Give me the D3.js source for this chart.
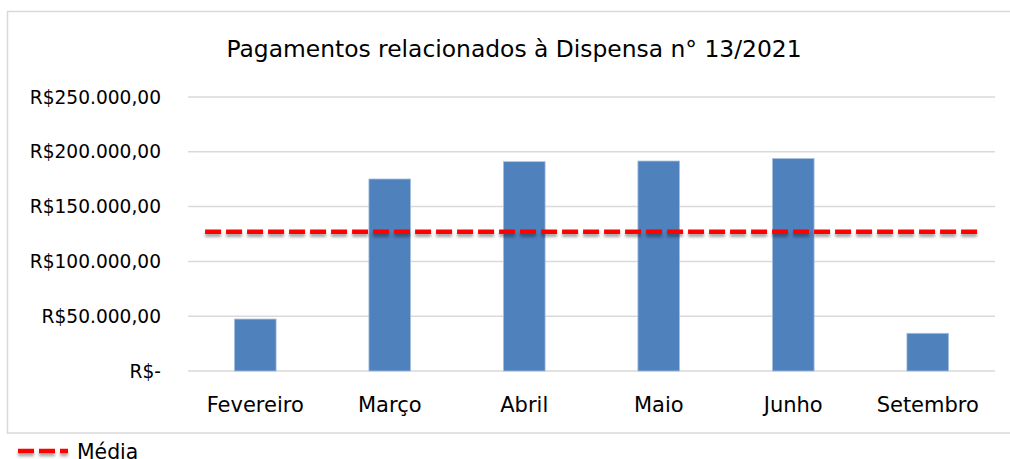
<!DOCTYPE html>
<html>
<head>
<meta charset="utf-8">
<script src="https://cdn.jsdelivr.net/npm/d3@7"></script>
<style>
  body { margin: 0; background: #fff; }
  svg { font-family: "DejaVu Sans", sans-serif; }
</style>
</head>
<body>
<div class="chart"></div>
<script>
// data
var months = ["Fevereiro", "Março", "Abril", "Maio", "Junho", "Setembro"];
var payments = [47400, 175200, 191000, 191600, 193900, 34400];
var mediaValue = 127100;
var yTicks = [0, 50000, 100000, 150000, 200000, 250000];
var yTickLabels = ["R$-", "R$50.000,00", "R$100.000,00", "R$150.000,00", "R$200.000,00", "R$250.000,00"];
var title = "Pagamentos relacionados à Dispensa n° 13/2021";

function drawChart(){

var W = 1010, H = 459;
var svg = d3.select("div.chart").append("svg")
    .attr("width", W).attr("height", H);

// drop shadow for the average line (user space, a flat line has no bbox height)
var defs = svg.append("defs");
defs.append("filter").attr("id", "shadow")
    .attr("filterUnits", "userSpaceOnUse")
    .attr("x", 0).attr("y", 0).attr("width", W).attr("height", H)
  .append("feDropShadow")
    .attr("dx", 0).attr("dy", 3).attr("stdDeviation", 1.8)
    .attr("flood-color", "#000").attr("flood-opacity", 0.35);

// chart border (runs past the right edge)
svg.append("rect")
    .attr("x", 7.5).attr("y", 11.5)
    .attr("width", 1020).attr("height", 421.5)
    .attr("fill", "#fff").attr("stroke", "#d9d9d9").attr("stroke-width", 1.5);

var pLeft = 188, pRight = 995, pTop = 97, pBottom = 371;

var x = d3.scaleBand().domain(months).range([pLeft, pRight]).paddingInner(0.69).paddingOuter(0.345);
var y = d3.scaleLinear().domain([0, 250000]).range([pBottom, pTop]);

// gridlines
svg.append("g").selectAll("line")
    .data(yTicks).enter().append("line")
    .attr("x1", pLeft).attr("x2", pRight)
    .attr("y1", function(d){ return y(d); })
    .attr("y2", function(d){ return y(d); })
    .attr("stroke", "#d9d9d9").attr("stroke-width", 1.5);

// y axis labels
svg.append("g").selectAll("text")
    .data(yTicks).enter().append("text")
    .attr("x", 161)
    .attr("y", function(d){ return y(d); })
    .attr("dy", "0.36em")
    .attr("text-anchor", "end")
    .attr("font-size", 18.6)
    .attr("fill", "#000")
    .text(function(d, i){ return yTickLabels[i]; });

// bars
svg.append("g").selectAll("rect")
    .data(payments).enter().append("rect")
    .attr("x", function(d, i){ return x(months[i]); })
    .attr("y", function(d){ return y(d); })
    .attr("width", x.bandwidth())
    .attr("height", function(d){ return y(0) - y(d); })
    .attr("fill", "#4f81bd")
    .attr("stroke", "#a9c1e0").attr("stroke-width", 0.8);

// category labels
svg.append("g").selectAll("text")
    .data(months).enter().append("text")
    .attr("x", function(d){ return x(d) + x.bandwidth() / 2; })
    .attr("y", 412)
    .attr("text-anchor", "middle")
    .attr("font-size", 21)
    .attr("fill", "#000")
    .text(function(d){ return d; });

// average line
var step = x.step();
svg.append("line")
    .attr("x1", pLeft + step * 0.127).attr("x2", pRight - step * 0.11)
    .attr("y1", y(mediaValue)).attr("y2", y(mediaValue))
    .attr("stroke", "#ff0000").attr("stroke-width", 4.5)
    .attr("stroke-dasharray", "16,5")
    .attr("filter", "url(#shadow)");

// title
svg.append("text")
    .attr("x", 514).attr("y", 57)
    .attr("text-anchor", "middle")
    .attr("font-size", 23.4)
    .attr("fill", "#000")
    .text(title);

// legend
svg.append("line")
    .attr("x1", 18).attr("x2", 68)
    .attr("y1", 451).attr("y2", 451)
    .attr("stroke", "#ff0000").attr("stroke-width", 4.5)
    .attr("stroke-dasharray", "16,5")
    .attr("filter", "url(#shadow)");
svg.append("text")
    .attr("x", 77).attr("y", 459)
    .attr("font-size", 20.4)
    .attr("fill", "#000")
    .text("Média");
}

drawChart();
</script>
</body>
</html>
